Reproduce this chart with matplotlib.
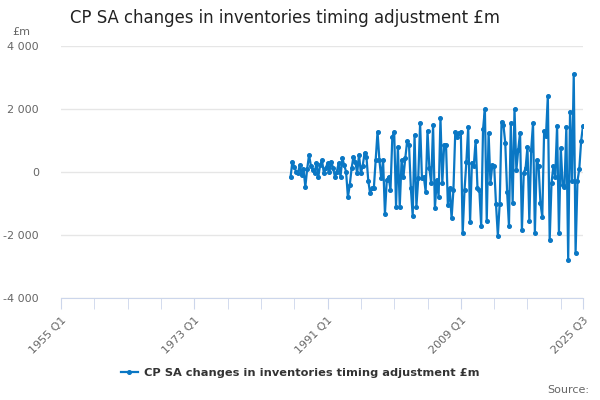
import matplotlib
matplotlib.use("Agg")
import matplotlib.pyplot as plt

# quarterly series, 1986 Q1 .. 2025 Q3 (axis runs from 1955 Q1)
first_year = 1955
series_start = "1986 Q1"
values = [
    -170, 330, 170, 10, -40, 220, -100, 100, -470, 100,
    540, 200, 60, -40, 280, -150, 220, 380, -40, 120,
    280, 10, 330, 120, -150, 10, 280, -150, 430, 220,
    10, -800, -410, 120, 490, 330, -40, 550, -40, 200,
    610, 490, -280, -680, -520, -520, 380, 1280, 380, -200,
    380, -1330, -250, -150, -570, 1120, 1280, -1100, 800, -1100,
    380, -150, 440, 980, 860, -520, -1400, 1170, -1100, -200,
    1550, -200, -150, -620, 1310, 120, -360, 1490, -1150, -250,
    -780, 1720, -350, 860, 860, -1050, -510, -1470, -570, 1280,
    1120, 1250, 1280, -1950, -570, 330, 1440, -1580, 300, 200,
    1000, -510, -570, -1710, 1360, 2000, -1550, 1240, -350, 220,
    200, -1020, -2020, -1000, 1600, 1500, 930, -620, -1710, 1550,
    -990, 2000, 60, 700, 1250, -1840, -30, 130, 800, -1550,
    700, 1550, -1930, 380, 200, -990, -1420, 1300, 1150, 2410,
    -2160, -350, 190, -150, 1470, -1940, 760, -400, -470, 1440,
    -2790, 1915, -275, 3110, -2560, -300, 100, 990, 1470,
]
tick_labels = ["1955 Q1", "1973 Q1", "1991 Q1", "2009 Q1", "2025 Q3"]
y_ticks = [-4000, -2000, 0, 2000, 4000]
series_name = "CP SA changes in inventories timing adjustment £m"

quarters = []
for yr in range(first_year, 2026):
    for q in range(1, 5):
        quarters.append(f"{yr} Q{q}")
quarters = quarters[:quarters.index("2025 Q3") + 1]

start = quarters.index(series_start)
xs = list(range(start, start + len(values)))

fig = plt.figure(figsize=(6, 4), dpi=100)
ax = fig.add_axes([61 / 600, 1 - 298 / 400, (583 - 61) / 600, (298 - 46) / 400])

blue = "#0a77c4"
ax.plot(xs, values, color=blue, lw=1.6, marker="o", ms=2.6, label=series_name, zorder=3)

ax.set_xlim(0, len(quarters) - 1)
ax.set_ylim(-4000, 4000)
ax.set_yticks(y_ticks)
ax.set_yticklabels([f"{v:,}".replace(",", " ") for v in y_ticks], color="#666666", fontsize=8)
ax.yaxis.grid(True, color="#e6e6e6", lw=1)
ax.set_axisbelow(True)
ax.tick_params(axis="y", length=0, pad=16)

major = [quarters.index(t) for t in tick_labels]
minor = list(range(0, len(quarters) - 1, 18)) + [len(quarters) - 1]
ax.set_xticks(minor, minor=True)
ax.set_xticks(major)
ax.set_xticklabels(tick_labels, rotation=45, ha="right", rotation_mode="anchor",
                   color="#666666", fontsize=8)
ax.tick_params(axis="x", which="both", length=8, color="#ccd6eb", pad=4)

for s in ["top", "right", "left"]:
    ax.spines[s].set_visible(False)
ax.spines["bottom"].set_color("#ccd6eb")

fig.text(70 / 600, 1 - 18 / 400, "CP SA changes in inventories timing adjustment £m",
         fontsize=11.9, color="#222222", va="center")
fig.text(12 / 600, 1 - 32 / 400, "£m", fontsize=8, color="#666666", va="center")

leg = fig.legend(loc="center", bbox_to_anchor=(0.5, 1 - 373 / 400), frameon=False,
                 handlelength=1.5, handletextpad=0.5, fontsize=8.2)
for t in leg.get_texts():
    t.set_fontweight("bold")
    t.set_color("#333333")

fig.text(589 / 600, 1 - 390 / 400, "Source:", fontsize=8, color="#666666",
         ha="right", va="center")

fig.savefig("out.png", dpi=100)
